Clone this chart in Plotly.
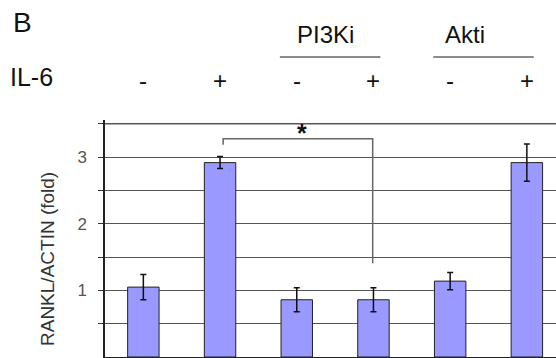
import plotly.graph_objects as go

# RANKL/ACTIN expression (fold) for each treatment condition
conditions = ["ctrl -", "ctrl +", "PI3Ki -", "PI3Ki +", "Akti -", "Akti +"]
il6_signs = ["-", "+", "-", "+", "-", "+"]
rankl_fold = [1.05, 2.92, 0.86, 0.86, 1.14, 2.92]
rankl_err = [0.19, 0.09, 0.18, 0.18, 0.13, 0.28]

# inhibitor groups: (label, first condition index, last condition index)
groups = [("PI3Ki", 2, 3), ("Akti", 4, 5)]

# significance comparison between IL-6 alone and IL-6 + PI3Ki
sig_pair = (1, 3)
sig_text = "*"

# y grid every 0.5, labelled at whole numbers only
y_tickvals = [0.5, 1, 1.5, 2, 2.5, 3, 3.5]
y_ticktext = ["", "1", "", "2", "", "3", ""]

W, H = 556, 358
ML, MT, MB = 105, 120, 1
plot_h = H - MT - MB

def py(pixel_y):
    """paper y-coordinate for a pixel row measured from the top"""
    return (H - MB - pixel_y) / plot_h

fig = go.Figure()
fig.add_trace(go.Bar(
    x=list(range(len(conditions))),
    y=rankl_fold,
    marker=dict(color="#9999ff", line=dict(color="#222222", width=1)),
    error_y=dict(type="data", array=rankl_err, visible=True,
                 color="#111111", thickness=1.5, width=3),
    width=0.41,
    hoverinfo="skip",
))

line_col = "#666666"
grid_col = "#555555"
shapes = []
annotations = []

# top grid line at the highest grid value
shapes.append(dict(type="line", xref="paper", yref="y", layer="below",
                   x0=0, x1=1, y0=y_tickvals[-1], y1=y_tickvals[-1],
                   line=dict(color=grid_col, width=1)))

# significance bracket
x_left = sig_pair[0] + 0.04
x_right = sig_pair[1] - 0.01
shapes.append(dict(type="path", xref="x", yref="y",
                   path=f"M {x_left},3.19 L {x_left},3.28 L {x_right},3.28 L {x_right},1.41",
                   line=dict(color=line_col, width=1.5)))
annotations.append(dict(x=(x_left + x_right) / 2 + 0.05, y=3.36, xref="x", yref="y",
                        text=f"<b>{sig_text}</b>", showarrow=False,
                        font=dict(size=25, color="#111111"), yanchor="middle"))

# inhibitor headers with underline (label sits a little left of the line centre)
label_shift = {"PI3Ki": -0.13, "Akti": -0.31}
for name, a, b in groups:
    shapes.append(dict(type="line", xref="x", yref="paper",
                       x0=a - 0.22, x1=b + 0.09, y0=py(57), y1=py(57),
                       line=dict(color=line_col, width=1.5)))
    annotations.append(dict(x=(a + b) / 2 + label_shift[name], y=py(34), xref="x", yref="paper",
                            text=name, showarrow=False, xanchor="center", yanchor="middle",
                            font=dict(size=24, color="#111111")))

# IL-6 row
for i, s in enumerate(il6_signs):
    annotations.append(dict(x=i, y=py(80), xref="x", yref="paper", text=s,
                            showarrow=False, xanchor="center", yanchor="middle",
                            font=dict(size=24, color="#111111")))
annotations.append(dict(x=(8 - ML) / (W - ML), y=py(77), xref="paper", yref="paper",
                        text="IL-6", showarrow=False, xanchor="left", yanchor="middle",
                        font=dict(size=25, color="#111111")))
annotations.append(dict(x=(11 - ML) / (W - ML), y=py(23), xref="paper", yref="paper",
                        text="B", showarrow=False, xanchor="left", yanchor="middle",
                        font=dict(size=28, color="#111111")))

# y-axis title
annotations.append(dict(x=(47 - ML) / (W - ML), y=py(259), xref="paper", yref="paper",
                        text="RANKL/ACTIN (fold)", showarrow=False, textangle=-90,
                        xanchor="center", yanchor="middle",
                        font=dict(size=19, color="#333333")))

fig.update_layout(
    width=W, height=H,
    margin=dict(l=ML, r=0, t=MT, b=MB, pad=0),
    paper_bgcolor="white", plot_bgcolor="white",
    font=dict(family="Liberation Sans, Arial, sans-serif"),
    showlegend=False,
    shapes=shapes,
    annotations=annotations,
    bargap=0.59,
)
fig.update_xaxes(
    range=[-0.5, 5.38], showticklabels=False, showgrid=False,
    showline=True, linecolor="#222222", linewidth=1.5,
    ticks="", zeroline=False,
)
fig.update_yaxes(
    range=[0, 3.56], tickvals=y_tickvals, ticktext=y_ticktext,
    ticks="outside", ticklen=5,
    tickcolor="#333333", tickfont=dict(size=17, color="#555555"),
    showgrid=True, gridcolor=grid_col, gridwidth=1,
    showline=True, linecolor="#222222", linewidth=1.5,
    zeroline=False, ticklabelstandoff=8,
)

fig.write_html("out.html")
